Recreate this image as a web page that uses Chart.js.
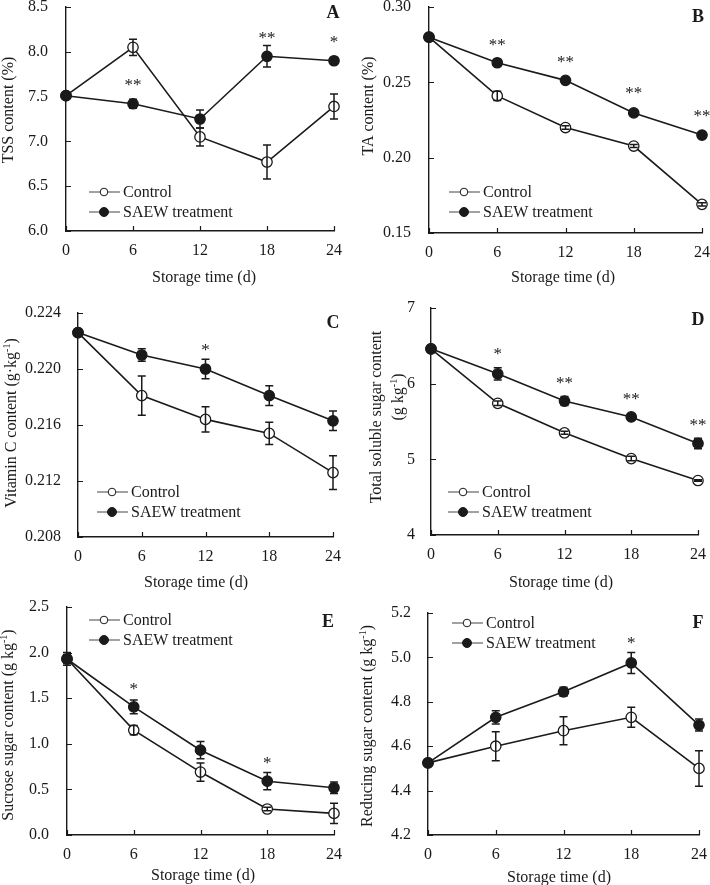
<!DOCTYPE html>
<html>
<head>
<meta charset="utf-8">
<script src="https://cdn.jsdelivr.net/npm/chart.js@4.4.0/dist/chart.umd.min.js"></script>
<style>
  html, body { margin: 0; padding: 0; background: #fff; }
  body { width: 710px; height: 885px; position: relative; overflow: hidden; }
  canvas { position: absolute; }
</style>
</head>
<body>
<canvas id="cA"></canvas>
<canvas id="cB"></canvas>
<canvas id="cC"></canvas>
<canvas id="cD"></canvas>
<canvas id="cE"></canvas>
<canvas id="cF"></canvas>
<script>
// ---------- shared data ----------
const days = [0, 6, 12, 18, 24];
const xTickLabels = ['0', '6', '12', '18', '24'];
const seriesNames = ['Control', 'SAEW treatment'];
const xAxisTitle = 'Storage time (d)';

// ---------- A: TSS content (%) ----------
const tssControl    = [7.51, 8.05, 7.05, 6.77, 7.39];
const tssControlErr = [0.00, 0.09, 0.10, 0.19, 0.14];
const tssSaew       = [7.51, 7.42, 7.25, 7.95, 7.90];
const tssSaewErr    = [0.00, 0.05, 0.10, 0.12, 0.01];
const tssStarText   = ['', '**', '', '**', '*'];
const tssStarAt     = [null, 7.66, null, 8.19, 8.14];
const tssYTicks     = [6.0, 6.5, 7.0, 7.5, 8.0, 8.5];
const tssYTickLabels = ['6.0', '6.5', '7.0', '7.5', '8.0', '8.5'];

// ---------- B: TA content (%) ----------
const taControl    = [0.280, 0.241, 0.220, 0.2077, 0.169];
const taControlErr = [0.000, 0.003, 0.0012, 0.001, 0.001];
const taSaew       = [0.280, 0.263, 0.2513, 0.2297, 0.215];
const taSaewErr    = [0.000, 0.0012, 0.001, 0.001, 0.001];
const taStarText   = ['', '**', '**', '**', '**'];
const taStarAt     = [null, 0.2768, 0.2657, 0.2447, 0.2296];
const taYTicks     = [0.15, 0.20, 0.25, 0.30];
const taYTickLabels = ['0.15', '0.20', '0.25', '0.30'];

// ---------- C: Vitamin C content ----------
const vcControl    = [0.2226, 0.2181, 0.2164, 0.2154, 0.2126];
const vcControlErr = [0.0000, 0.0014, 0.0009, 0.0008, 0.0012];
const vcSaew       = [0.2226, 0.2210, 0.2200, 0.2181, 0.2163];
const vcSaewErr    = [0.0000, 0.00045, 0.0007, 0.0007, 0.0007];
const vcStarText   = ['', '', '*', '', ''];
const vcStarAt     = [null, null, 0.2216, null, null];
const vcYTicks     = [0.208, 0.212, 0.216, 0.220, 0.224];
const vcYTickLabels = ['0.208', '0.212', '0.216', '0.220', '0.224'];

// ---------- D: Total soluble sugar content ----------
const tsControl    = [6.46, 5.74, 5.35, 5.01, 4.72];
const tsControlErr = [0.03, 0.03, 0.02, 0.03, 0.01];
const tsSaew       = [6.46, 6.13, 5.77, 5.56, 5.21];
const tsSaewErr    = [0.04, 0.08, 0.06, 0.03, 0.07];
const tsStarText   = ['', '*', '**', '**', '**'];
const tsStarAt     = [null, 6.43, 6.05, 5.84, 5.49];
const tsYTicks     = [4, 5, 6, 7];
const tsYTickLabels = ['4', '5', '6', '7'];

// ---------- E: Sucrose sugar content ----------
const suControl    = [1.93, 1.15, 0.69, 0.285, 0.237];
const suControlErr = [0.05, 0.05, 0.10, 0.02, 0.11];
const suSaew       = [1.93, 1.405, 0.93, 0.59, 0.518];
const suSaewErr    = [0.07, 0.076, 0.095, 0.095, 0.064];
const suStarText   = ['', '*', '', '*', ''];
const suStarAt     = [null, 1.635, null, 0.82, null];
const suYTicks     = [0.0, 0.5, 1.0, 1.5, 2.0, 2.5];
const suYTickLabels = ['0.0', '0.5', '1.0', '1.5', '2.0', '2.5'];

// ---------- F: Reducing sugar content ----------
const rsControl    = [4.525, 4.60, 4.67, 4.73, 4.50];
const rsControlErr = [0.000, 0.065, 0.063, 0.045, 0.08];
const rsSaew       = [4.525, 4.73, 4.845, 4.975, 4.695];
const rsSaewErr    = [0.000, 0.03, 0.02, 0.047, 0.027];
const rsStarText   = ['', '', '', '*', ''];
const rsStarAt     = [null, null, null, 5.077, null];
const rsYTicks     = [4.2, 4.4, 4.6, 4.8, 5.0, 5.2];
const rsYTickLabels = ['4.2', '4.4', '4.6', '4.8', '5.0', '5.2'];

// ---------- styling / layout ----------
const FONT = '"Liberation Serif", "Times New Roman", serif';
const INK = '#1a1a1a';
const FS = 16;

const panels = [
  { id: 'cA', letter: 'A', box: [0, 0, 355, 290], area: [66, 7, 334, 231],
    control: tssControl, controlErr: tssControlErr, saew: tssSaew, saewErr: tssSaewErr,
    starText: tssStarText, starAt: tssStarAt, yTicks: tssYTicks, yLabels: tssYTickLabels,
    yTitle: [['TSS content (%)', 8, 110]], xTitle: [204, 277], legend: [89, 192], letterPos: [333, 13], yGap: 18 },
  { id: 'cB', letter: 'B', box: [355, 0, 355, 290], area: [74, 7, 347, 233],
    control: taControl, controlErr: taControlErr, saew: taSaew, saewErr: taSaewErr,
    starText: taStarText, starAt: taStarAt, yTicks: taYTicks, yLabels: taYTickLabels,
    yTitle: [['TA content (%)', 13, 106]], xTitle: [208, 277], legend: [94, 192], letterPos: [343, 17], yGap: 18 },
  { id: 'cC', letter: 'C', box: [0, 290, 355, 300], area: [78, 23, 333, 247],
    control: vcControl, controlErr: vcControlErr, saew: vcSaew, saewErr: vcSaewErr,
    starText: vcStarText, starAt: vcStarAt, yTicks: vcYTicks, yLabels: vcYTickLabels,
    yTitle: [['Vitamin C content (g·kg^{-1})', 11, 133]], xTitle: [196, 292], legend: [97, 202], letterPos: [333, 33], yGap: 17 },
  { id: 'cD', letter: 'D', box: [355, 290, 355, 300], area: [76, 18, 343, 245],
    control: tsControl, controlErr: tsControlErr, saew: tsSaew, saewErr: tsSaewErr,
    starText: tsStarText, starAt: tsStarAt, yTicks: tsYTicks, yLabels: tsYTickLabels,
    yTitle: [['Total soluble sugar content', 21, 127], ['(g kg^{-1})', 43, 107]], xTitle: [206, 292], legend: [93, 202], letterPos: [343, 30], yGap: 16 },
  { id: 'cE', letter: 'E', box: [0, 590, 355, 295], area: [67, 17, 334, 245],
    control: suControl, controlErr: suControlErr, saew: suSaew, saewErr: suSaewErr,
    starText: suStarText, starAt: suStarAt, yTicks: suYTicks, yLabels: suYTickLabels,
    yTitle: [['Sucrose sugar content (g kg^{-1})', 8, 135]], xTitle: [203, 285], legend: [89, 30], letterPos: [328, 32], yGap: 18 },
  { id: 'cF', letter: 'F', box: [355, 590, 355, 295], area: [73, 23, 344, 245],
    control: rsControl, controlErr: rsControlErr, saew: rsSaew, saewErr: rsSaewErr,
    starText: rsStarText, starAt: rsStarAt, yTicks: rsYTicks, yLabels: rsYTickLabels,
    yTitle: [['Reducing sugar content (g kg^{-1})', 12, 136]], xTitle: [204, 287], legend: [97, 33], letterPos: [343, 33], yGap: 17 },
];

function drawRich(ctx, text, x, y, rot, size) {
  const parts = [];
  const re = /\^\{([^}]*)\}/g;
  let last = 0, m;
  while ((m = re.exec(text))) {
    if (m.index > last) parts.push({ t: text.slice(last, m.index), sup: false });
    parts.push({ t: m[1], sup: true });
    last = re.lastIndex;
  }
  if (last < text.length) parts.push({ t: text.slice(last), sup: false });
  ctx.save();
  ctx.translate(x, y);
  ctx.rotate(rot);
  let total = 0;
  parts.forEach(p => {
    p.size = p.sup ? Math.round(size * 0.62) : size;
    ctx.font = p.size + 'px ' + FONT;
    p.w = ctx.measureText(p.t).width;
    total += p.w;
  });
  let cx = -total / 2;
  ctx.textBaseline = 'alphabetic';
  ctx.textAlign = 'left';
  ctx.fillStyle = INK;
  parts.forEach(p => {
    ctx.font = p.size + 'px ' + FONT;
    ctx.fillText(p.t, cx, p.sup ? size * 0.34 - size * 0.42 : size * 0.34);
    cx += p.w;
  });
  ctx.restore();
}

function panelPlugin(p) {
  return {
    id: 'panelDecor' + p.letter,
    afterDatasetsDraw(chart) {
      const ctx = chart.ctx;
      const xs = chart.scales.x, ys = chart.scales.y;
      const sets = [[p.control, p.controlErr], [p.saew, p.saewErr]];
      ctx.save();
      ctx.strokeStyle = INK;
      ctx.lineWidth = 1.5;
      sets.forEach(([vals, errs]) => {
        vals.forEach((v, i) => {
          const e = errs[i];
          if (!e) return;
          const px = xs.getPixelForValue(days[i]);
          const t = ys.getPixelForValue(v + e);
          const b = ys.getPixelForValue(v - e);
          ctx.beginPath();
          ctx.moveTo(px, t); ctx.lineTo(px, b);
          ctx.moveTo(px - 4, t); ctx.lineTo(px + 4, t);
          ctx.moveTo(px - 4, b); ctx.lineTo(px + 4, b);
          ctx.stroke();
        });
      });
      ctx.restore();
    },
    afterDraw(chart) {
      const ctx = chart.ctx;
      const xs = chart.scales.x, ys = chart.scales.y;
      const area = chart.chartArea;
      ctx.save();
      ctx.strokeStyle = INK;
      ctx.lineWidth = 1.2;
      ctx.beginPath();
      p.yTicks.forEach(v => {
        const py = Math.round(ys.getPixelForValue(v)) + 0.5;
        ctx.moveTo(area.left, py); ctx.lineTo(area.left + 5, py);
      });
      days.forEach(v => {
        const px = Math.round(xs.getPixelForValue(v)) + 0.5;
        ctx.moveTo(px, area.bottom); ctx.lineTo(px, area.bottom - 5);
      });
      ctx.stroke();
      ctx.fillStyle = INK;
      ctx.font = '17px ' + FONT;
      ctx.textAlign = 'center';
      ctx.textBaseline = 'alphabetic';
      p.starText.forEach((s, i) => {
        if (!s) return;
        const px = xs.getPixelForValue(days[i]);
        const py = ys.getPixelForValue(p.starAt[i]);
        ctx.fillText(s, px, py + 8);
      });
      const [lx, ly] = p.legend;
      [[seriesNames[0], false], [seriesNames[1], true]].forEach(([name, filled], k) => {
        const yy = ly + k * 20;
        ctx.strokeStyle = '#444';
        ctx.lineWidth = 1;
        ctx.beginPath();
        ctx.moveTo(lx, yy); ctx.lineTo(lx + 31, yy);
        ctx.stroke();
        ctx.beginPath();
        ctx.arc(lx + 15, yy, filled ? 4.5 : 3.8, 0, Math.PI * 2);
        ctx.fillStyle = filled ? INK : '#fff';
        ctx.fill();
        ctx.strokeStyle = INK;
        ctx.stroke();
        ctx.fillStyle = INK;
        ctx.font = FS + 'px ' + FONT;
        ctx.textAlign = 'left';
        ctx.textBaseline = 'middle';
        ctx.fillText(name, lx + 34, yy + 1);
      });
      ctx.font = 'bold 18px ' + FONT;
      ctx.textAlign = 'center';
      ctx.textBaseline = 'middle';
      ctx.fillText(p.letter, p.letterPos[0], p.letterPos[1]);
      p.yTitle.forEach(([txt, tx, ty]) => drawRich(ctx, txt, tx, ty, -Math.PI / 2, FS));
      drawRich(ctx, xAxisTitle, p.xTitle[0], p.xTitle[1], 0, FS);
      ctx.restore();
    }
  };
}

function makeChart(p) {
  const canvas = document.getElementById(p.id);
  const [bx, by, bw, bh] = p.box;
  const [l, t, r, b] = p.area;
  canvas.width = bw; canvas.height = bh;
  canvas.style.left = bx + 'px'; canvas.style.top = by + 'px';
  canvas.style.width = bw + 'px'; canvas.style.height = bh + 'px';
  const common = { borderColor: INK, borderWidth: 1.6, pointRadius: 5.2, pointBorderColor: INK,
                   pointBorderWidth: 1.3, tension: 0, fill: false, clip: false };
  new Chart(canvas, {
    type: 'line',
    data: {
      datasets: [
        Object.assign({ label: seriesNames[1], data: days.map((d, i) => ({ x: d, y: p.saew[i] })),
                        pointBackgroundColor: INK, order: 0 }, common),
        Object.assign({ label: seriesNames[0], data: days.map((d, i) => ({ x: d, y: p.control[i] })),
                        pointBackgroundColor: '#fff', order: 1 }, common),
      ]
    },
    options: {
      responsive: false, animation: false, devicePixelRatio: 1, events: [],
      layout: { padding: { left: 0, top: t, right: bw - r, bottom: 0 } },
      plugins: { legend: { display: false }, tooltip: { enabled: false } },
      scales: {
        x: {
          type: 'linear', min: 0, max: 24,
          afterBuildTicks: s => { s.ticks = days.map(v => ({ value: v })); },
          afterFit: s => { s.height = bh - b; s.paddingLeft = 0; s.paddingRight = 0; },
          grid: { display: false, drawTicks: false },
          border: { display: true, color: INK, width: 1.4 },
          ticks: { padding: 10, color: INK, font: { family: FONT, size: FS }, maxRotation: 0,
                   autoSkip: false, callback: (v, i) => xTickLabels[i] },
          title: { display: false }
        },
        y: {
          type: 'linear', min: p.yTicks[0], max: p.yTicks[p.yTicks.length - 1],
          afterBuildTicks: s => { s.ticks = p.yTicks.map(v => ({ value: v })); },
          afterFit: s => { s.width = l; s.paddingTop = 0; s.paddingBottom = 0; },
          grid: { display: false, drawTicks: false },
          border: { display: true, color: INK, width: 1.4 },
          ticks: { padding: p.yGap, color: INK, font: { family: FONT, size: FS },
                   autoSkip: false, callback: (v, i) => p.yLabels[i] },
          title: { display: false }
        }
      }
    },
    plugins: [panelPlugin(p)]
  });
}

panels.forEach(makeChart);
</script>
</body>
</html>
